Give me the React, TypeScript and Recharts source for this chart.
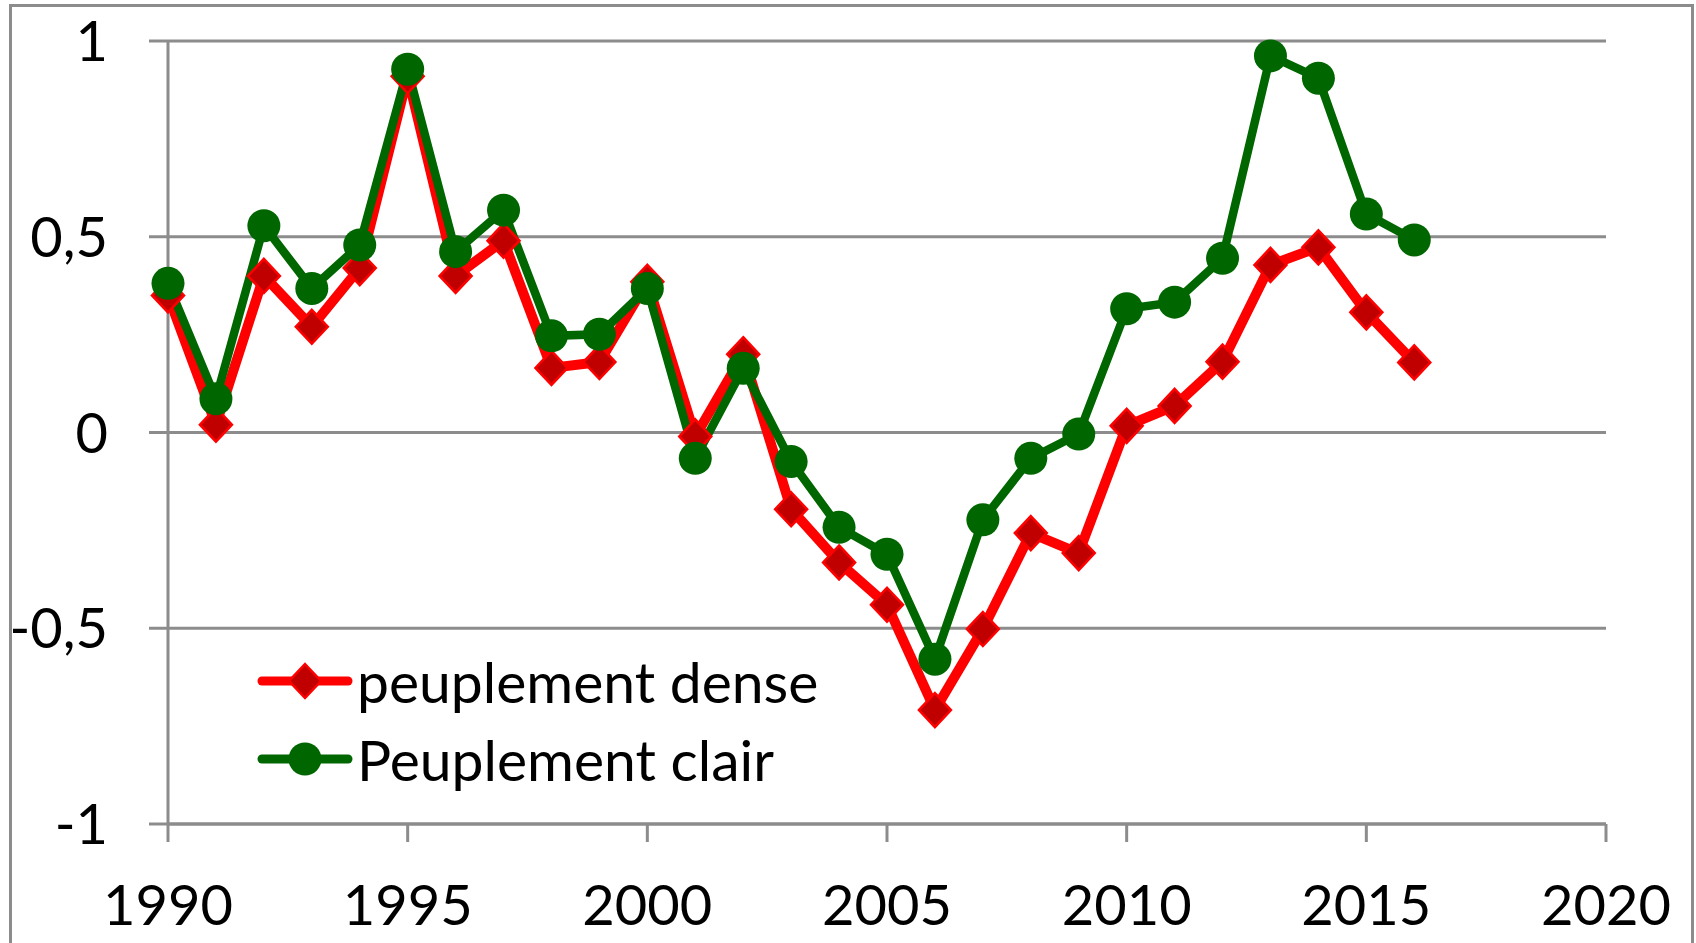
import React from 'react';
import { LineChart, Line, XAxis, YAxis, CartesianGrid, Legend } from 'recharts';

const years = [1990, 1991, 1992, 1993, 1994, 1995, 1996, 1997, 1998, 1999, 2000, 2001, 2002, 2003, 2004, 2005, 2006, 2007, 2008, 2009, 2010, 2011, 2012, 2013, 2014, 2015, 2016];
const denseValues = [0.35, 0.02, 0.40, 0.27, 0.42, 0.91, 0.40, 0.49, 0.165, 0.18, 0.385, -0.01, 0.20, -0.196, -0.332, -0.44, -0.709, -0.502, -0.257, -0.308, 0.017, 0.068, 0.181, 0.428, 0.473, 0.307, 0.179];
const clairValues = [0.381, 0.086, 0.528, 0.368, 0.479, 0.928, 0.462, 0.568, 0.247, 0.251, 0.368, -0.066, 0.164, -0.074, -0.242, -0.311, -0.579, -0.223, -0.066, -0.004, 0.316, 0.333, 0.445, 0.962, 0.905, 0.558, 0.492];
const xTicks = [1990, 1995, 2000, 2005, 2010, 2015, 2020];
const yTicks = [-1, -0.5, 0, 0.5, 1];
const denseName = 'peuplement dense';
const clairName = 'Peuplement clair';

const data = years.map((y, i) => ({ year: y, dense: denseValues[i], clair: clairValues[i] }));

const FONT = 'Lato, "Open Sans", sans-serif';
const GRID = '#8c8c8c';
const RED = '#ff0000';
const DARKRED = '#c00000';
const GREEN = '#006600';

const Diamond = ({ cx, cy }: { cx: number; cy: number }) => (
  <polygon
    points={`${cx},${cy - 17} ${cx + 16},${cy} ${cx},${cy + 17} ${cx - 16},${cy}`}
    fill={DARKRED}
    stroke={RED}
    strokeWidth={2.5}
  />
);

const Circle = ({ cx, cy }: { cx: number; cy: number }) => (
  <circle cx={cx} cy={cy} r={16.5} fill={GREEN} />
);

const XTick = (props: any) => {
  const { x, y, payload } = props;
  return (
    <text x={x} y={y + 83} textAnchor="middle" fontFamily={FONT} fontSize={56} fill="#000">
      {payload.value}
    </text>
  );
};

const YTick = (props: any) => {
  const { x, y, payload } = props;
  const label = String(payload.value).replace('.', ',');
  return (
    <text x={x - 41} y={y + 20} textAnchor="end" fontFamily={FONT} fontSize={56} fill="#000">
      {label}
    </text>
  );
};

const renderLegend = () => {
  const rows = [
    { name: denseName, color: RED, kind: 'diamond' },
    { name: clairName, color: GREEN, kind: 'circle' },
  ];
  return (
    <div style={{ position: 'absolute', left: 257, top: 642, width: 800, fontFamily: FONT, fontSize: 57, whiteSpace: 'nowrap' }}>
      {rows.map((r) => (
        <div key={r.name} style={{ display: 'flex', alignItems: 'center', height: 78 }}>
          <svg width={96} height={40} style={{ display: 'block', flex: 'none' }}>
            <line x1={5} y1={20} x2={91} y2={20} stroke={r.color} strokeWidth={9} strokeLinecap="round" />
            {r.kind === 'diamond' ? (
              <polygon points="48,3 64,20 48,37 32,20" fill={DARKRED} stroke={RED} strokeWidth={2.5} />
            ) : (
              <circle cx={48} cy={20} r={16.5} fill={GREEN} />
            )}
          </svg>
          <span style={{ marginLeft: 4, color: '#000', lineHeight: '78px', whiteSpace: 'nowrap' }}>{r.name}</span>
        </div>
      ))}
    </div>
  );
};

export default function App() {
  return (
    <div style={{ position: 'absolute', left: 0, top: 0, width: 1696, height: 943, overflow: 'hidden', background: '#fff' }}>
      <div
        style={{
          position: 'absolute',
          left: 9,
          top: 4,
          width: 1679,
          height: 1000,
          border: `3px solid ${GRID}`,
        }}
      />
      <div style={{ position: 'absolute', left: 0, top: 0 }}>
        <LineChart width={1696} height={943} data={data} margin={{ top: 41, right: 90, bottom: 19, left: 0 }}>
          <CartesianGrid vertical={false} stroke={GRID} strokeWidth={3} />
          <XAxis
            dataKey="year"
            type="number"
            domain={[1990, 2020]}
            ticks={xTicks}
            interval={0}
            height={100}
            tickSize={18}
            tickMargin={0}
            axisLine={{ stroke: GRID, strokeWidth: 3 }}
            tickLine={{ stroke: GRID, strokeWidth: 3 }}
            tick={<XTick />}
          />
          <YAxis
            type="number"
            domain={[-1, 1]}
            ticks={yTicks}
            interval={0}
            width={168}
            tickSize={19}
            tickMargin={0}
            axisLine={{ stroke: GRID, strokeWidth: 3 }}
            tickLine={{ stroke: GRID, strokeWidth: 3 }}
            tick={<YTick />}
          />
          <Legend layout="horizontal" verticalAlign="middle" align="center" content={renderLegend} wrapperStyle={{ left: 0, top: 0, width: 1, height: 1, overflow: 'visible' }} />
          <Line
            type="linear"
            dataKey="dense"
            name={denseName}
            stroke={RED}
            strokeWidth={10}
            isAnimationActive={false}
            dot={(p: any) => <Diamond key={`d${p.index}`} cx={p.cx} cy={p.cy} />}
            activeDot={false}
          />
          <Line
            type="linear"
            dataKey="clair"
            name={clairName}
            stroke={GREEN}
            strokeWidth={8.5}
            isAnimationActive={false}
            dot={(p: any) => <Circle key={`c${p.index}`} cx={p.cx} cy={p.cy} />}
            activeDot={false}
          />
        </LineChart>
      </div>
    </div>
  );
}
